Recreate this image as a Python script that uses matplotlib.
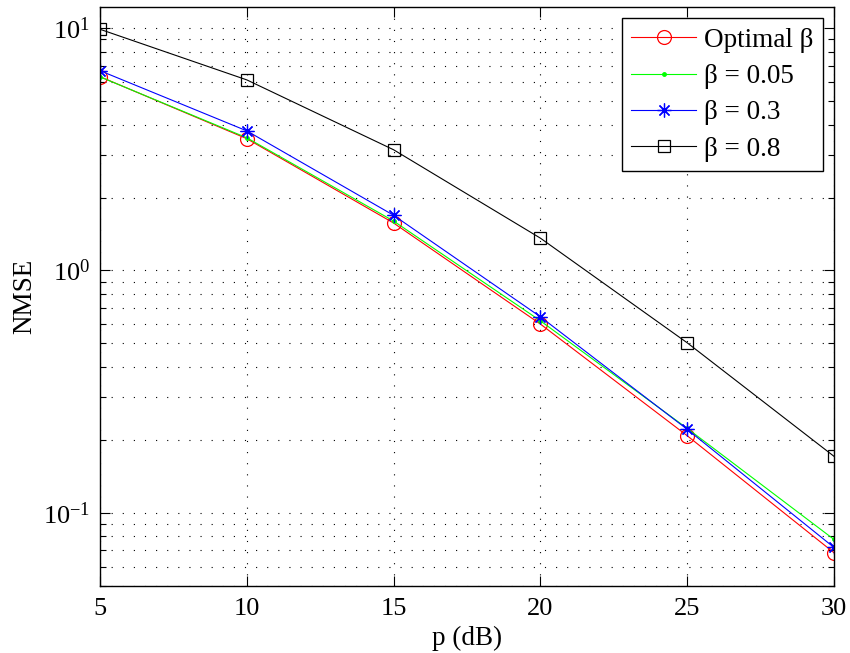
import numpy as np
import matplotlib
matplotlib.use("Agg")
import matplotlib.pyplot as plt
from matplotlib.ticker import LogLocator, NullFormatter

plt.rcParams['font.family'] = ['Liberation Serif', 'DejaVu Serif']
plt.rcParams['mathtext.fontset'] = 'custom'
plt.rcParams['mathtext.rm'] = 'Liberation Serif'
plt.rcParams['mathtext.it'] = 'Liberation Serif:italic'

# --- dati ---
p_db = [5, 10, 15, 20, 25, 30]
nmse_opt = [6.31, 3.50, 1.57, 0.601, 0.208, 0.0684]
nmse_005 = [6.30, 3.53, 1.60, 0.620, 0.223, 0.0776]
nmse_03 = [6.68, 3.77, 1.69, 0.644, 0.221, 0.0719]
nmse_08 = [9.9, 6.12, 3.15, 1.36, 0.503, 0.171]

labels = ['Optimal β', 'β = 0.05', 'β = 0.3', 'β = 0.8']

fs_tick = 19
fs_lab = 19.5
fig = plt.figure(figsize=(8.5, 6.53), dpi=100)
ax = fig.add_axes([100/850, 1 - 585.7/653, 734/850, (585.7 - 7.3)/653])

lw = 0.8
ax.plot(p_db, nmse_opt, color='red', marker='o', markersize=10, markerfacecolor='none',
        markeredgewidth=0.9, linewidth=lw, label=labels[0])
ax.plot(p_db, nmse_005, color='#00ff00', marker='.', markersize=5, linewidth=lw, label=labels[1])
ax.plot(p_db, nmse_03, color='blue', marker=(8, 2, 0), markersize=10,
        markeredgewidth=0.9, linewidth=lw, label=labels[2])
ax.plot(p_db, nmse_08, color='black', marker='s', markersize=9, markerfacecolor='none',
        markeredgewidth=0.9, linewidth=lw, label=labels[3])

ax.set_yscale('log')
ax.set_xlim(5, 30)
ax.set_ylim(0.05, 12.2)
ax.set_xticks([5, 10, 15, 20, 25, 30])
ax.yaxis.set_major_locator(LogLocator(base=10, numticks=10))
ax.yaxis.set_minor_locator(LogLocator(base=10, subs=np.arange(2, 10), numticks=20))
ax.yaxis.set_minor_formatter(NullFormatter())

# griglia a puntini radi, stile MATLAB
dots = (0, (1, 9))
ax.grid(True, which='major', linestyle=dots, linewidth=0.8, color='black')
ax.grid(True, which='minor', axis='y', linestyle=dots, linewidth=0.8, color='black')

ax.tick_params(which='both', direction='in', top=True, right=True, labelsize=fs_tick)
ax.tick_params(axis='x', pad=9)
ax.tick_params(axis='y', pad=7)
ax.tick_params(which='major', length=7, width=0.8)
ax.tick_params(which='minor', length=4, width=0.8)
for s in ax.spines.values():
    s.set_linewidth(1.0)

ax.set_xlabel('p (dB)', fontsize=fs_lab, labelpad=4)
ax.set_ylabel('NMSE', fontsize=fs_lab, labelpad=4)

leg = ax.legend(loc='upper right', fontsize=fs_lab, fancybox=False, framealpha=1,
                edgecolor='black', handlelength=2.4, borderaxespad=0.4,
                labelspacing=0.42, handletextpad=0.3, borderpad=0.35)
leg.get_frame().set_linewidth(1.0)

fig.savefig('out.png', dpi=100)
